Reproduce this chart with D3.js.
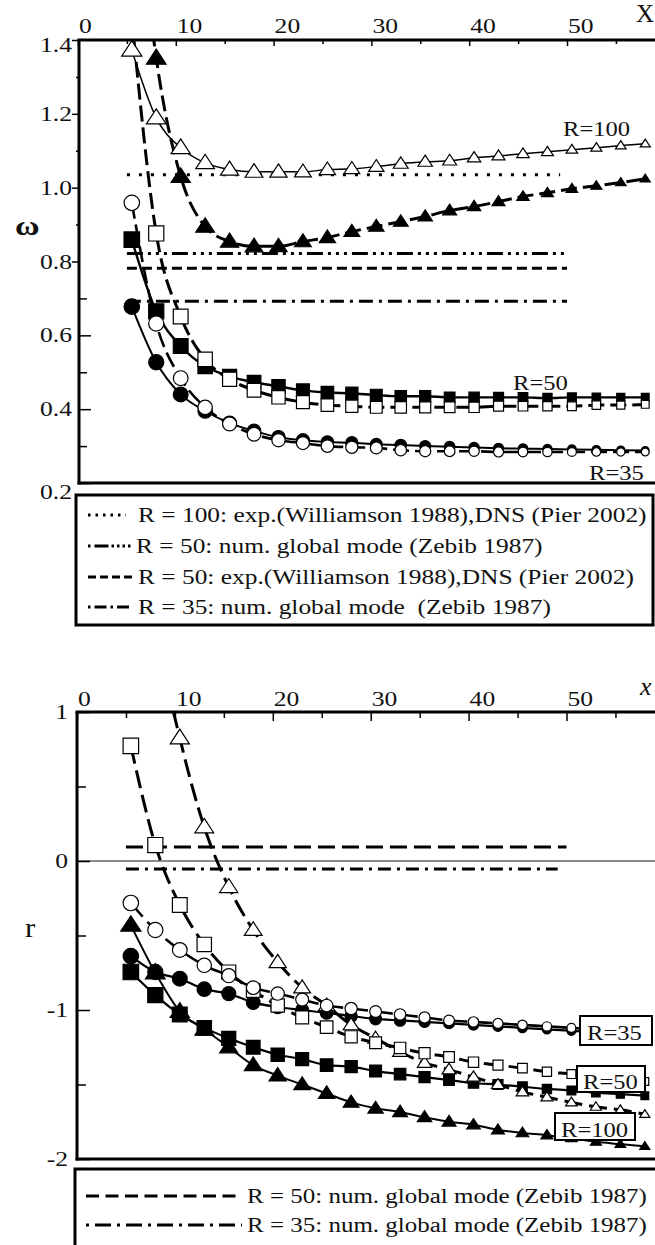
<!DOCTYPE html>
<html>
<head>
<meta charset="utf-8">
<script src="https://cdn.jsdelivr.net/npm/d3@7"></script>
<style>
  html, body { margin: 0; padding: 0; background: #fff; }
  svg { display: block; }
  text { font-family: "Liberation Serif", "Times New Roman", serif; fill: #111; white-space: pre; }
</style>
</head>
<body>
<svg id="chart" width="655" height="1245"></svg>
<script>
// ---------- data ----------
// streamwise stations of the computed points
const stationX = [5.5, 8, 10.5, 13, 15.5, 18, 20.5, 23, 25.5, 28, 30.5, 33, 35.5, 38, 40.5, 43, 45.5, 48, 50.5, 53, 55.5, 58];

// frequency omega
const omegaR100Open   = [1.373, 1.189, 1.108, 1.067, 1.049, 1.043, 1.043, 1.043, 1.049, 1.051, 1.057, 1.065, 1.070, 1.073, 1.081, 1.086, 1.092, 1.097, 1.103, 1.108, 1.114, 1.119];
const omegaR100Filled = [1.96, 1.351, 1.030, 0.895, 0.854, 0.841, 0.841, 0.854, 0.865, 0.881, 0.895, 0.908, 0.922, 0.938, 0.949, 0.962, 0.976, 0.986, 0.997, 1.005, 1.014, 1.024];
const omegaR50Filled  = [0.859, 0.665, 0.571, 0.516, 0.489, 0.473, 0.462, 0.451, 0.445, 0.443, 0.438, 0.435, 0.435, 0.432, 0.432, 0.432, 0.432, 0.430, 0.432, 0.432, 0.432, 0.432];
const omegaR50Open    = [1.46, 0.876, 0.651, 0.535, 0.481, 0.451, 0.432, 0.419, 0.411, 0.408, 0.405, 0.405, 0.405, 0.405, 0.405, 0.408, 0.408, 0.408, 0.408, 0.411, 0.411, 0.413];
const omegaR35Filled  = [0.678, 0.527, 0.440, 0.395, 0.362, 0.341, 0.324, 0.316, 0.311, 0.309, 0.305, 0.303, 0.300, 0.298, 0.296, 0.294, 0.293, 0.292, 0.291, 0.290, 0.289, 0.288];
const omegaR35Open    = [0.959, 0.632, 0.484, 0.405, 0.360, 0.332, 0.316, 0.308, 0.300, 0.297, 0.295, 0.289, 0.286, 0.286, 0.286, 0.284, 0.284, 0.284, 0.284, 0.284, 0.284, 0.284];

// growth rate r
const rR100Open   = [3.0, 1.6, 0.826, 0.228, -0.174, -0.463, -0.68, -0.85, -0.97, -1.10, -1.19, -1.28, -1.355, -1.40, -1.45, -1.50, -1.55, -1.585, -1.62, -1.65, -1.67, -1.70];
const rR100Filled = [-0.43, -0.75, -1.01, -1.13, -1.25, -1.37, -1.44, -1.50, -1.56, -1.62, -1.66, -1.685, -1.72, -1.75, -1.77, -1.805, -1.825, -1.84, -1.86, -1.885, -1.90, -1.915];
const rR50Open    = [0.772, 0.107, -0.295, -0.56, -0.745, -0.87, -0.97, -1.05, -1.115, -1.18, -1.22, -1.255, -1.29, -1.315, -1.35, -1.37, -1.39, -1.415, -1.43, -1.45, -1.465, -1.48];
const rR50Filled  = [-0.745, -0.90, -1.03, -1.12, -1.19, -1.25, -1.30, -1.33, -1.37, -1.38, -1.41, -1.43, -1.45, -1.47, -1.49, -1.50, -1.515, -1.53, -1.54, -1.555, -1.565, -1.575];
const rR35Open    = [-0.282, -0.463, -0.597, -0.70, -0.77, -0.85, -0.89, -0.93, -0.97, -0.99, -1.01, -1.03, -1.05, -1.07, -1.08, -1.09, -1.10, -1.11, -1.12, -1.13, -1.135, -1.14];
const rR35Filled  = [-0.638, -0.745, -0.79, -0.86, -0.89, -0.95, -0.98, -1.00, -1.02, -1.04, -1.06, -1.07, -1.08, -1.09, -1.10, -1.11, -1.12, -1.13, -1.14, -1.145, -1.15, -1.155];

// reference levels (experiment / global-mode results)
const omegaRefValues = [1.035, 0.822, 0.782, 0.692];
const omegaRefStart  = [5, 5, 5, 5];
const omegaRefEnd    = [49.3, 49.8, 50, 50];
const rRefValues = [0.094, -0.054];
const rRefStart  = [5, 5];
const rRefEnd    = [50, 49.1];

// axis ticks and labels
const xTickValues = [0, 10, 20, 30, 40, 50];
const xTickLabels = ["0", "10", "20", "30", "40", "50"];
const xMinorTicks = [5, 15, 25, 35, 45, 55];
const omegaTickValues = [0.2, 0.4, 0.6, 0.8, 1.0, 1.2, 1.4];
const omegaTickLabels = ["0.2", "0.4", "0.6", "0.8", "1.0", "1.2", "1.4"];
const omegaMinorTicks = [0.3, 0.5, 0.7, 0.9, 1.1, 1.3];
const rTickValues = [1, 0, -1, -2];
const rTickLabels = ["1", "0", "-1", "-2"];
const rMinorTicks = [0.5, -0.5, -1.5];

const omegaLegendLabels = [
  "R = 100: exp.(Williamson 1988),DNS (Pier 2002)",
  "R = 50: num. global mode (Zebib 1987)",
  "R = 50: exp.(Williamson 1988),DNS (Pier 2002)",
  "R = 35: num. global mode  (Zebib 1987)"
];
const rLegendLabels = [
  "R = 50: num. global mode (Zebib 1987)",
  "R = 35: num. global mode (Zebib 1987)"
];

// ---------- drawing ----------
const SX = 1.28;               // horizontal stretch of the serif lettering
const svg = d3.select("#chart");
const defs = svg.append("defs");

function label(parent, x, y, str, opt = {}) {
  const t = parent.append("text")
    .attr("transform", `translate(${x},${y}) scale(${opt.sx || SX},1)`)
    .attr("text-anchor", opt.anchor || "start")
    .style("font-size", (opt.size || 20) + "px")
    .text(str);
  if (opt.weight) t.style("font-weight", opt.weight);
  if (opt.italic) t.style("font-style", "italic");
  return t;
}

function markerPath(shape, s) {
  if (shape === "circle") {
    const r = s / 2;
    return `M${-r},0A${r},${r} 0 1,0 ${r},0A${r},${r} 0 1,0 ${-r},0Z`;
  }
  if (shape === "square") {
    const h = s / 2;
    return `M${-h},${-h}H${h}V${h}H${-h}Z`;
  }
  const w = s * 0.65;
  return `M0,${-s * 0.6}L${w},${s * 0.4}L${-w},${s * 0.4}Z`;
}
// symbols get smaller further downstream
const markerSize = x => 15.5 * (1 - 0.0095 * (x - 5.5));

function drawCurves(g, xs, ys, series, clipId) {
  const cg = g.append("g").attr("clip-path", `url(#${clipId})`);
  const line = d3.line().x(d => xs(d[0])).y(d => ys(d[1])).curve(d3.curveMonotoneX);
  series.forEach(s => {
    const pts = stationX.map((x, i) => [x, s.ys[i]]);
    cg.append("path").attr("d", line(pts))
      .attr("fill", "none").attr("stroke", "#000")
      .attr("stroke-width", s.lw)
      .attr("stroke-dasharray", s.dash);
  });
  series.forEach(s => {
    stationX.forEach((x, i) => {
      cg.append("path")
        .attr("d", markerPath(s.shape, markerSize(x)))
        .attr("transform", `translate(${xs(x)},${ys(s.ys[i])})`)
        .attr("fill", s.filled ? "#000" : "#fff")
        .attr("stroke", "#000").attr("stroke-width", 1.2);
    });
  });
}

function refLines(g, xs, ys, values, starts, ends, dashes) {
  values.forEach((v, i) => {
    g.append("line")
      .attr("x1", xs(starts[i])).attr("x2", xs(ends[i]))
      .attr("y1", ys(v)).attr("y2", ys(v))
      .attr("stroke", "#000").attr("stroke-width", 3)
      .attr("stroke-dasharray", dashes[i]);
  });
}

function tickAxis(g, axis) {
  const a = g.append("g").call(axis);
  a.select(".domain").remove();
  a.selectAll("line").attr("stroke", "#000").attr("stroke-width", 1.5);
  a.selectAll("text").remove();
  return a;
}

// ===== upper panel: omega =====
const xUp = d3.scaleLinear().domain([0, 60]).range([78, 664.8]);
const yUp = d3.scaleLinear().domain([0.2, 1.4]).range([483, 40]);
defs.append("clipPath").attr("id", "clipUp").append("rect")
  .attr("x", 80).attr("y", 40).attr("width", 640).attr("height", 443);

const upper = svg.append("g");
refLines(upper, xUp, yUp, omegaRefValues, omegaRefStart, omegaRefEnd,
  ["3,9", "16,5,3,5,3,5,3,5", "10,5", "14,6,3,6"]);
drawCurves(upper, xUp, yUp, [
  { ys: omegaR100Filled, shape: "triangle", filled: true,  dash: "16,6", lw: 3 },
  { ys: omegaR100Open,   shape: "triangle", filled: false, dash: null,   lw: 1.5 },
  { ys: omegaR50Filled,  shape: "square",   filled: true,  dash: null,   lw: 2.4 },
  { ys: omegaR50Open,    shape: "square",   filled: false, dash: "16,6", lw: 3 },
  { ys: omegaR35Filled,  shape: "circle",   filled: true,  dash: null,   lw: 2 },
  { ys: omegaR35Open,    shape: "circle",   filled: false, dash: "16,6", lw: 2.6 }
], "clipUp");

// ticks
tickAxis(upper.append("g").attr("transform", `translate(0,40)`),
  d3.axisTop(xUp).tickValues(xTickValues).tickSize(-6).tickFormat(""));
tickAxis(upper.append("g").attr("transform", `translate(0,40)`),
  d3.axisTop(xUp).tickValues(xMinorTicks).tickSize(-4).tickFormat(""));
tickAxis(upper.append("g").attr("transform", `translate(79,0)`),
  d3.axisLeft(yUp).tickValues(omegaTickValues.filter(v => v >= 0.8)).tickSize(7).tickFormat(""));
tickAxis(upper.append("g").attr("transform", `translate(79,0)`),
  d3.axisLeft(yUp).tickValues(omegaMinorTicks.filter(v => v >= 0.8)).tickSize(3).tickFormat(""));
tickAxis(upper.append("g").attr("transform", `translate(79,0)`),
  d3.axisLeft(yUp).tickValues(omegaTickValues.filter(v => v < 0.8)).tickSize(-12).tickFormat(""));
tickAxis(upper.append("g").attr("transform", `translate(79,0)`),
  d3.axisLeft(yUp).tickValues(omegaMinorTicks.filter(v => v < 0.8)).tickSize(-8).tickFormat(""));

// frame
upper.append("line").attr("x1", 77.5).attr("x2", 655).attr("y1", 40).attr("y2", 40)
  .attr("stroke", "#000").attr("stroke-width", 3);
upper.append("line").attr("x1", 79).attr("x2", 79).attr("y1", 40).attr("y2", 484.5)
  .attr("stroke", "#000").attr("stroke-width", 3);
upper.append("line").attr("x1", 77.5).attr("x2", 655).attr("y1", 483).attr("y2", 483)
  .attr("stroke", "#000").attr("stroke-width", 3);

// tick labels
xTickValues.forEach((v, i) => label(upper, xUp(v) + 1, 33, xTickLabels[i]));
omegaTickValues.forEach((v, i) => {
  let cy = yUp(v);
  if (v === 1.4) cy += 5;
  if (v === 0.2) cy += 9;
  label(upper, 72, cy + 7, omegaTickLabels[i], { anchor: "end" });
});
label(upper, 636, 22, "X", { size: 25, sx: 1 });
label(upper, 15, 235, "ω", { size: 28, weight: "bold", sx: 1.2 });

// curve labels
label(upper, 563, 136, "R=100", { sx: 1.23 });
label(upper, 513, 390, "R=50", { sx: 1.23 });
label(upper, 589, 480, "R=35", { sx: 1.23 });

// legend
const legUp = svg.append("g");
legUp.append("rect").attr("x", 76).attr("y", 495).attr("width", 577).attr("height", 130)
  .attr("fill", "#fff").attr("stroke", "#000").attr("stroke-width", 3);
const legUpSampleY = [515, 546, 577, 607];
const legUpSampleEnd = [126, 134, 132, 132];
const legUpDash = ["2.5,5", "2.5,4,14,3,2.5,3,2.5,3,2.5,3,2.5,30", "8,4", "2.5,4,12,4"];
const legUpTextX = [138, 136, 138, 138];
omegaLegendLabels.forEach((t, i) => {
  legUp.append("line").attr("x1", 88).attr("x2", legUpSampleEnd[i])
    .attr("y1", legUpSampleY[i]).attr("y2", legUpSampleY[i])
    .attr("stroke", "#000").attr("stroke-width", 3).attr("stroke-dasharray", legUpDash[i]);
  label(legUp, legUpTextX[i], legUpSampleY[i] + 7, t, { sx: 1.27 });
});

// ===== lower panel: r =====
const xLo = d3.scaleLinear().domain([0, 60]).range([77, 664.4]);
const yLo = d3.scaleLinear().domain([-2, 1]).range([1159, 712]);
defs.append("clipPath").attr("id", "clipLo").append("rect")
  .attr("x", 78).attr("y", 712).attr("width", 640).attr("height", 447);

const lower = svg.append("g");
lower.append("line").attr("x1", xLo(0)).attr("x2", 655).attr("y1", yLo(0)).attr("y2", yLo(0))
  .attr("stroke", "#666").attr("stroke-width", 1.3);
refLines(lower, xLo, yLo, rRefValues, rRefStart, rRefEnd, ["17,7", "13,6,3,6"]);
drawCurves(lower, xLo, yLo, [
  { ys: rR100Filled, shape: "triangle", filled: true,  dash: null,   lw: 2 },
  { ys: rR50Filled,  shape: "square",   filled: true,  dash: null,   lw: 2.2 },
  { ys: rR35Filled,  shape: "circle",   filled: true,  dash: null,   lw: 2.2 },
  { ys: rR100Open,   shape: "triangle", filled: false, dash: "18,7", lw: 3 },
  { ys: rR50Open,    shape: "square",   filled: false, dash: "18,7", lw: 3 },
  { ys: rR35Open,    shape: "circle",   filled: false, dash: "18,7", lw: 2.6 }
], "clipLo");

tickAxis(lower.append("g").attr("transform", `translate(0,712)`),
  d3.axisTop(xLo).tickValues(xTickValues).tickSize(-9).tickFormat(""));
tickAxis(lower.append("g").attr("transform", `translate(0,712)`),
  d3.axisTop(xLo).tickValues(xMinorTicks).tickSize(-6).tickFormat(""));
tickAxis(lower.append("g").attr("transform", `translate(77,0)`),
  d3.axisLeft(yLo).tickValues(rTickValues).tickSize(-13).tickFormat(""));
tickAxis(lower.append("g").attr("transform", `translate(77,0)`),
  d3.axisLeft(yLo).tickValues(rMinorTicks).tickSize(-9).tickFormat(""));

lower.append("line").attr("x1", 75.5).attr("x2", 655).attr("y1", 712).attr("y2", 712)
  .attr("stroke", "#000").attr("stroke-width", 3);
lower.append("line").attr("x1", 77).attr("x2", 77).attr("y1", 712).attr("y2", 1160.5)
  .attr("stroke", "#000").attr("stroke-width", 3);
lower.append("line").attr("x1", 75.5).attr("x2", 655).attr("y1", 1159).attr("y2", 1159)
  .attr("stroke", "#000").attr("stroke-width", 3);

xTickValues.forEach((v, i) => label(lower, xLo(v) + 1, 706, xTickLabels[i]));
rTickValues.forEach((v, i) => label(lower, 68, yLo(v) + 7, rTickLabels[i], { anchor: "end" }));
label(lower, 640, 695, "x", { size: 26, sx: 1, italic: true });
label(lower, 25, 937, "r", { size: 28, sx: 1.1 });

// boxed curve labels
const boxes = [
  { text: "R=35",  x0: 580, y0: 1016, x1: 652, y1: 1045, tx: 587, ty: 1040 },
  { text: "R=50",  x0: 577, y0: 1066, x1: 645, y1: 1092, tx: 583, ty: 1089 },
  { text: "R=100", x0: 555, y0: 1113, x1: 635, y1: 1140, tx: 561, ty: 1137 }
];
boxes.forEach(b => {
  lower.append("rect").attr("x", b.x0).attr("y", b.y0)
    .attr("width", b.x1 - b.x0).attr("height", b.y1 - b.y0)
    .attr("fill", "#fff").attr("stroke", "#000").attr("stroke-width", 2);
  label(lower, b.tx, b.ty, b.text, { sx: 1.23 });
});

// legend
const legLo = svg.append("g");
legLo.append("rect").attr("x", 75).attr("y", 1169).attr("width", 640).attr("height", 120)
  .attr("fill", "#fff").attr("stroke", "#000").attr("stroke-width", 3);
const legLoSampleY = [1196, 1225];
const legLoDash = ["13,6.5", "3,6,16,6"];
rLegendLabels.forEach((t, i) => {
  legLo.append("line").attr("x1", 86).attr("x2", 242)
    .attr("y1", legLoSampleY[i]).attr("y2", legLoSampleY[i])
    .attr("stroke", "#000").attr("stroke-width", 3).attr("stroke-dasharray", legLoDash[i]);
  label(legLo, 247, legLoSampleY[i] + 7, t, { sx: 1.25 });
});
</script>
</body>
</html>
